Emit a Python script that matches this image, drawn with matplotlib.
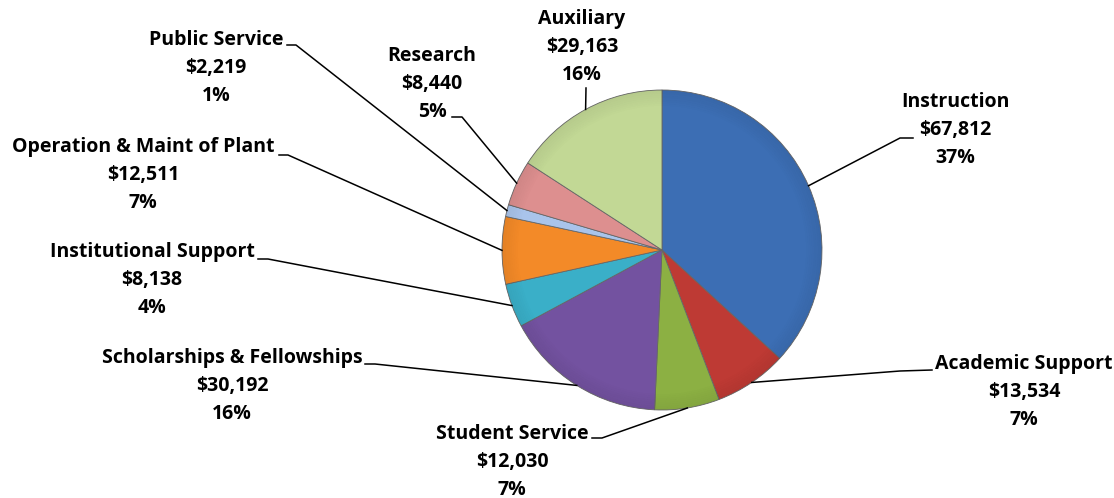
import matplotlib.pyplot as plt
from matplotlib.patches import Wedge
import numpy as np

plt.rcParams['font.family'] = ['Open Sans', 'DejaVu Sans']

categories = ['Instruction', 'Academic Support', 'Student Service',
              'Scholarships & Fellowships', 'Institutional Support',
              'Operation & Maint of Plant', 'Public Service', 'Research',
              'Auxiliary']
amounts = [67812, 13534, 12030, 30192, 8138, 12511, 2219, 8440, 29163]
colors = ['#3C6EB4', '#BE3A34', '#8CB043', '#7352A0', '#3AAFC8',
          '#F38A28', '#A9C4EB', '#DD8F8F', '#C2D895']

W, H = 1114, 498
# label layout in image pixels (from top): text centre, elbow, end of short tick
layout = {
    'Instruction': ((955, 130), (900, 138), (913, 138)),
    'Academic Support': ((1024, 392), (900, 371), (932, 370)),
    'Student Service': ((512, 462), (602, 438), (592, 438)),
    'Scholarships & Fellowships': ((232, 386), (375, 364), (365, 364)),
    'Institutional Support': ((152, 280), (268, 259), (258, 259)),
    'Operation & Maint of Plant': ((143, 175), (288, 155), (279, 155)),
    'Public Service': ((216, 68), (296, 45), (287, 45)),
    'Research': ((432, 84), (462, 117), (452, 117)),
    'Auxiliary': ((582, 47), (586, 88), (586, 88)),
}
line_gap = 28

def px(p):
    return p[0], H - p[1]

fig = plt.figure(figsize=(W / 100, H / 100), dpi=100)
ax = fig.add_axes([0, 0, 1, 1])

cx, cy, r = 662, H - 250, 160
wedges, _ = ax.pie(amounts, colors=colors, startangle=90, counterclock=False,
                   center=(cx, cy), radius=r, frame=True,
                   wedgeprops=dict(edgecolor='#666666', linewidth=0.6))

# soft darkening toward the rim, a stand-in for the bevel look
for k in range(8):
    ax.add_patch(Wedge((cx, cy), r - k * 2, 0, 360, width=2,
                       facecolor='black', alpha=0.06 * (8 - k) / 8, lw=0))

ax.set_xlim(0, W)
ax.set_ylim(0, H)
ax.set_aspect('equal')
ax.axis('off')

total = sum(amounts)
for w, name, val in zip(wedges, categories, amounts):
    mid = np.deg2rad((w.theta1 + w.theta2) / 2)
    x0, y0 = cx + r * np.cos(mid), cy + r * np.sin(mid)
    tpos, elbow, tick = layout[name]
    ex, ey = px(elbow)
    tx, ty = px(tick)
    ax.plot([x0, ex, tx], [y0, ey, ty], color='black', lw=1.1)
    pct = round(val / total * 100)
    lines = [name, f'${val:,}', f'{pct}%']
    for i, s in enumerate(lines):
        ax.text(tpos[0], H - (tpos[1] + (i - 1) * line_gap), s,
                ha='center', va='center', fontsize=14, fontweight='bold')

fig.savefig('out.png', dpi=100)
